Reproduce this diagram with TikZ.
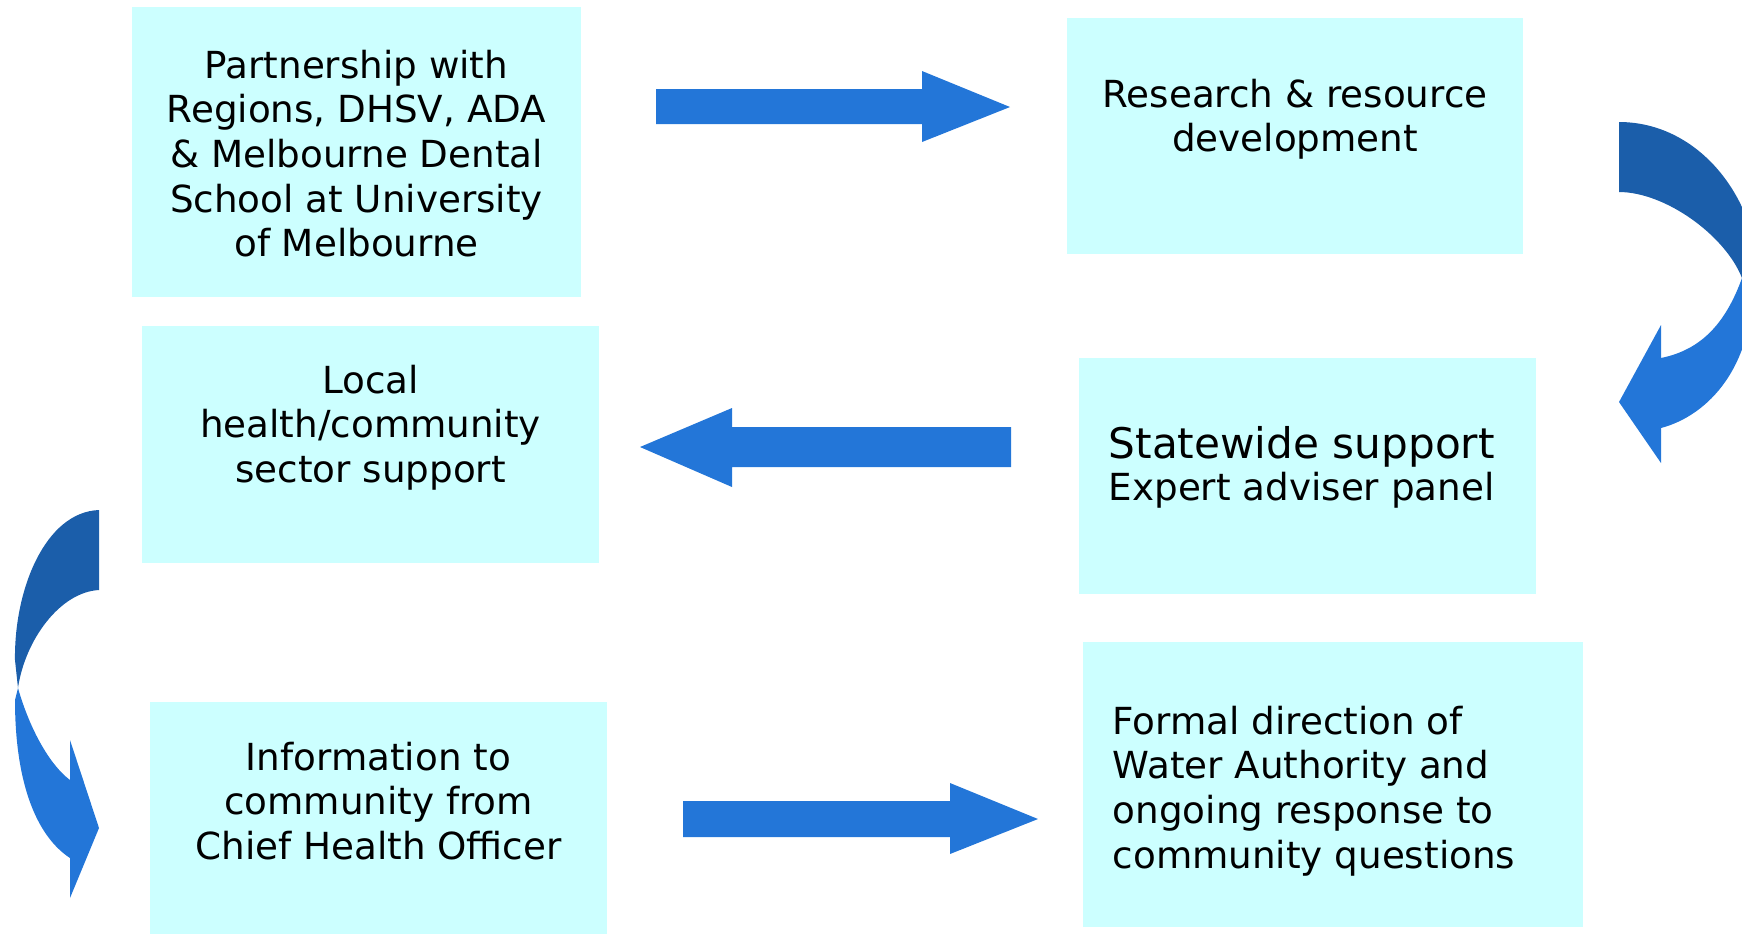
\documentclass[tikz,border=0pt]{standalone}
\usepackage{fontspec}
\setmainfont{DejaVu Sans}

\definecolor{stagecyan}{RGB}{204,255,255}
\definecolor{flowblue}{RGB}{35,118,216}
\definecolor{flowdark}{RGB}{27,94,170}

\tikzset{
	stage/.style={fill=stagecyan, inner sep=0pt},
	stagetext/.style={inner sep=0pt, anchor=north, align=center,
		font=\fontsize{10.6}{12.7}\selectfont},
	stageleft/.style={stagetext, anchor=north west, align=left},
}

\begin{document}
\begin{tikzpicture}[x=0.01cm,y=-0.01cm]
	%\draw[help lines] (0,0) grid[step=100] (1742,935);
	\useasboundingbox (0,0) rectangle (1742,935);

	% boxes
	\node[stage, minimum width=4.49cm, minimum height=2.90cm] (partner) at (356.5,152) {};
	\node[stage, minimum width=4.56cm, minimum height=2.36cm] (research) at (1295,136) {};
	\node[stage, minimum width=4.57cm, minimum height=2.37cm] (local) at (370.5,444.5) {};
	\node[stage, minimum width=4.57cm, minimum height=2.36cm] (statewide) at (1307.5,476) {};
	\node[stage, minimum width=4.57cm, minimum height=2.32cm] (info) at (378.5,818) {};
	\node[stage, minimum width=5.00cm, minimum height=2.85cm] (formal) at (1333,784.5) {};

	% texts
	\node[stagetext] (partnertxt) at (356.5,49)
	{Partnership with\\Regions, DHSV, ADA\\\& Melbourne Dental\\School at University\\of Melbourne};
	\node[stagetext] (researchtxt) at (1295,78)
	{Research \& resource\\development};
	\node[stagetext] (localtxt) at (370.5,364)
	{Local\\health/community\\sector support};
	\node[stageleft, font=\fontsize{10.6}{12}\selectfont] (statewidetxt) at (1108,426)
	{{\fontsize{12}{12}\selectfont Statewide support}\\Expert adviser panel};
	\node[stagetext] (infotxt) at (378.5,741)
	{Information to\\community from\\Chief Health Officer};
	\node[stageleft] (formaltxt) at (1112,705)
	{Formal direction of\\Water Authority and\\ongoing response to\\community questions};

	% straight block arrows
	\fill[flowblue] (656,89) -- (922,89) -- (922,71) -- (1010,107)
	-- (922,142) -- (922,124) -- (656,124) -- cycle;
	\fill[flowblue] (1011,427) -- (732,427) -- (732,408) -- (640,447)
	-- (732,487) -- (732,467) -- (1011,467) -- cycle;
	\fill[flowblue] (683,801) -- (950,801) -- (950,783) -- (1038,819)
	-- (950,854) -- (950,837) -- (683,837) -- cycle;

	% curved arrow on the right
	\begin{scope}
		\clip (0,0) rectangle (1742,935);
		\fill[flowdark] (1619,122) .. controls (1700,122) and (1758,200) .. (1758,278)
		-- (1742,278)
		.. controls (1725,235) and (1665,192) .. (1619,192) -- cycle;
		\fill[flowblue] (1742,278) .. controls (1725,325) and (1700,350) .. (1661,358)
		-- (1661,325) -- (1619,402) -- (1661,463) -- (1661,428)
		.. controls (1710,415) and (1752,365) .. (1752,290) -- cycle;
	\end{scope}

	% curved arrow on the left
	\fill[flowdark] (99,510) .. controls (45,512) and (14,590) .. (15,660)
	-- (18,688) .. controls (25,640) and (60,592) .. (99,590) -- cycle;
	\fill[flowblue] (18,688) .. controls (30,730) and (50,765) .. (70,780)
	-- (70,740) -- (99,828) -- (70,898) -- (70,858)
	.. controls (35,835) and (15,780) .. (15,700) -- cycle;

\end{tikzpicture}
\end{document}
